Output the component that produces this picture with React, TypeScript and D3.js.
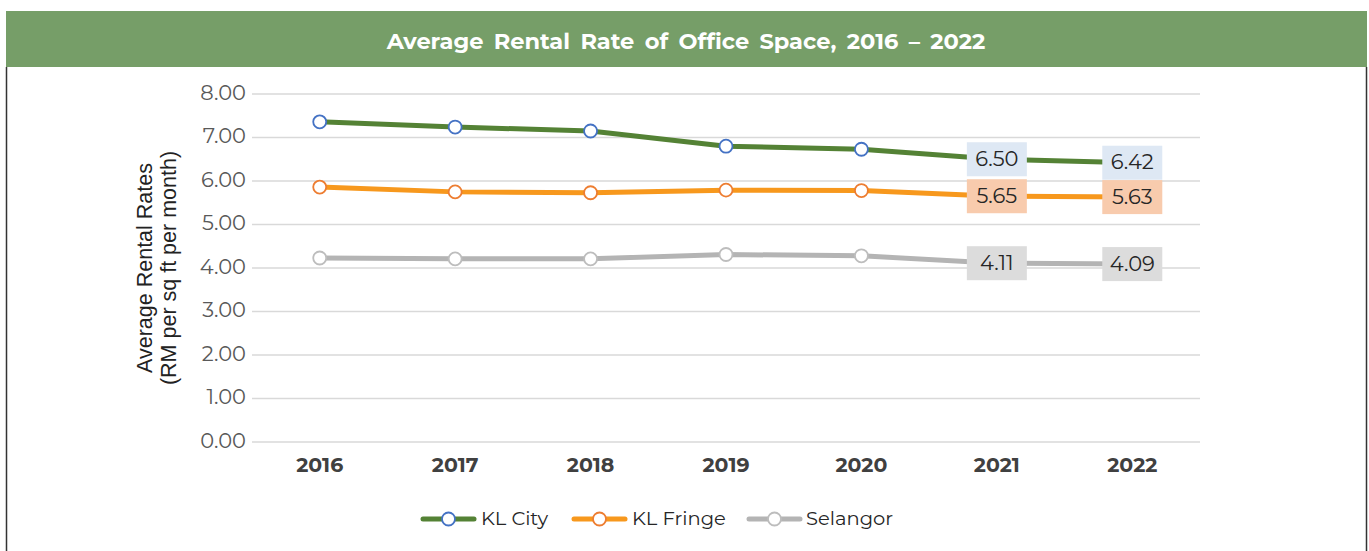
import React from "react";
import * as d3 from "d3";

const years = ["2016", "2017", "2018", "2019", "2020", "2021", "2022"];
const klCity = [7.36, 7.24, 7.15, 6.8, 6.73, 6.5, 6.42];
const klFringe = [5.86, 5.75, 5.73, 5.79, 5.78, 5.65, 5.63];
const selangor = [4.23, 4.21, 4.21, 4.31, 4.28, 4.11, 4.09];
const yTicks = [0, 1, 2, 3, 4, 5, 6, 7, 8];
const labelledYears = ["2021", "2022"];

const seriesList = [
  { name: "KL City", values: klCity, line: "#548235", marker: "#4472c4", labelBg: "#dee8f4" },
  { name: "KL Fringe", values: klFringe, line: "#f7981d", marker: "#ed7d31", labelBg: "#f8cbad" },
  { name: "Selangor", values: selangor, line: "#b4b4b4", marker: "#bdbdbd", labelBg: "#dcdcdc" },
];

const W = 1369;
const H = 551;
const plotLeft = 252;
const plotRight = 1200;
const plotTop = 94;
const plotBottom = 442;

export default function App() {
  const x = d3.scaleBand<string>().domain(years).range([plotLeft, plotRight]);
  const y = d3.scaleLinear().domain([0, 8]).range([plotBottom, plotTop]);
  const cx = (yr: string) => (x(yr) as number) + x.bandwidth() / 2;
  const line = d3
    .line<number>()
    .x((_, i) => cx(years[i]))
    .y((d) => y(d));

  const legendItems = [
    { lineX: 423, textX: 481 },
    { lineX: 574, textX: 632 },
    { lineX: 749, textX: 806 },
  ];

  return (
    <svg
      width={W}
      height={H}
      style={{ position: "absolute", left: 0, top: 0, background: "#fff" }}
      fontFamily="Montserrat, 'Open Sans', sans-serif"
    >
      <rect x={6} y={11} width={1361} height={56} fill="#769e68" />
      <text
        x={686}
        y={43}
        textAnchor="middle"
        dominantBaseline="middle"
        fill="#fff"
        fontWeight="bold"
        fontSize={22.5}
        wordSpacing={4}
      >
        Average Rental Rate of Office Space, 2016 – 2022
      </text>
      <line x1={6.5} y1={67} x2={6.5} y2={H} stroke="#333" strokeWidth={1.5} />
      <line x1={1366.5} y1={67} x2={1366.5} y2={H} stroke="#333" strokeWidth={1.5} />

      {yTicks.map((t) => (
        <g key={t}>
          <line x1={plotLeft} x2={plotRight} y1={y(t)} y2={y(t)} stroke="#d9d9d9" strokeWidth={1.5} />
          <text
            x={246}
            y={y(t)}
            textAnchor="end"
            dominantBaseline="middle"
            fill="#595959"
            fontSize={21}
          >
            {t.toFixed(2)}
          </text>
        </g>
      ))}

      {years.map((yr) => (
        <text
          key={yr}
          x={cx(yr)}
          y={466}
          textAnchor="middle"
          dominantBaseline="middle"
          fill="#404040"
          fontWeight="bold"
          fontSize={20.5}
        >
          {yr}
        </text>
      ))}

      <g transform="translate(159,268) rotate(-90)" fontFamily="'Liberation Sans', Arial, sans-serif" fill="#222" fontSize={21.5}>
        <text x={0} y={-7} textAnchor="middle">Average Rental Rates</text>
        <text x={0} y={17} textAnchor="middle">(RM per sq ft per month)</text>
      </g>

      {seriesList.map((s) => (
        <path key={s.name} d={line(s.values) || ""} fill="none" stroke={s.line} strokeWidth={5} strokeLinejoin="round" />
      ))}

      {seriesList.map((s) =>
        years.map((yr, i) =>
          labelledYears.includes(yr) ? null : (
            <circle
              key={s.name + yr}
              cx={cx(yr)}
              cy={y(s.values[i])}
              r={6.5}
              fill="#fff"
              stroke={s.marker}
              strokeWidth={1.8}
            />
          )
        )
      )}

      {seriesList.map((s) =>
        years.map((yr, i) =>
          labelledYears.includes(yr) ? (
            <g key={"l" + s.name + yr}>
              <rect x={cx(yr) - 30} y={y(s.values[i]) - 17} width={60} height={34} fill={s.labelBg} />
              <text
                x={cx(yr)}
                y={y(s.values[i]) + 1}
                textAnchor="middle"
                dominantBaseline="middle"
                fill="#262626"
                fontSize={21}
              >
                {s.values[i].toFixed(2)}
              </text>
            </g>
          ) : null
        )
      )}

      {seriesList.map((s, i) => (
        <g key={"leg" + s.name}>
          <line
            x1={legendItems[i].lineX}
            x2={legendItems[i].lineX + 51}
            y1={519}
            y2={519}
            stroke={s.line}
            strokeWidth={5}
            strokeLinecap="round"
          />
          <circle cx={legendItems[i].lineX + 25.5} cy={519} r={6.5} fill="#fff" stroke={s.marker} strokeWidth={1.8} />
          <text x={legendItems[i].textX} y={520} dominantBaseline="middle" fill="#262626" fontSize={19.5}>
            {s.name}
          </text>
        </g>
      ))}
    </svg>
  );
}
